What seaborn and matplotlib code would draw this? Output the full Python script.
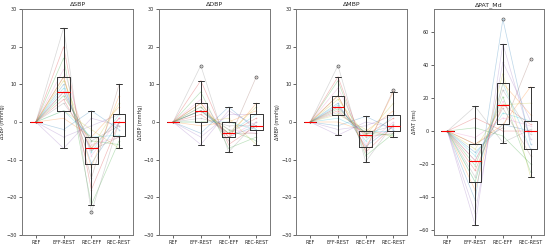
import pandas as pd
import matplotlib
matplotlib.use("Agg")
import matplotlib.pyplot as plt
import seaborn as sns

sns.set_style("ticks")
plt.rcParams["font.family"] = ["DejaVu Sans"]

# -----------------------------
# Data (per-subject changes, REF is always 0)
# -----------------------------
conditions = ["REF", "EFF-REST", "REC-EFF", "REC-REST"]
n_subjects = 20

sbp_eff_rest = [10, 1, 17, 6, -7, 12, 8, 25, 3, 9, -2, 12, 7, 20, -4, 8, 14, 5, 11, 3]
sbp_rec_eff = [-11, -4, -22, -7, 1, -15, -6, -24, -2, -8, 3, -12, -5, -18, -1, -7.5, -9, -5, -7, -4]
sbp_rec_rest = [0, 4, -5, 1, -1, 10, -4, 0, -7, 2, -2, 7, -6, 0, 2, -4, 1, -1, 5, -3.5]

dbp_eff_rest = [4, -1, 8, 2, -6, 5, 3, 15, 0, 3, -3, 5, 3, 11, -4, 3, 6, 1, 4, 0]
dbp_rec_eff = [-4, 0, -7, -3, 3, -5, -2, -8, 1, -3, 4, -4, -2, -6, 2, -3, -4, -1, -3, 0]
dbp_rec_rest = [-1, 3, -4, 1, -1, 12, -3, 0, -6, 2, -2, 5, -5, -1, 2, -3, 0, -1, 4, -2]

mbp_eff_rest = [5, 0, 11, 3, -3.5, 7, 4, 15, 2, 4.5, -1, 7, 3.5, 12, -2, 4, 9, 2.5, 6, 1]
mbp_rec_eff = [-6.5, -2.5, -9, -3.5, 0, -7.5, -3, -10.5, -2, -5, 1.5, -7, -3, -8, -1, -4, -6, -3, -3.5, -2.5]
mbp_rec_rest = [-1, 3, -3, 1, -1.5, 8.6, -2.5, -0.5, -4, 1.8, -2, 8, -3.5, -1, 1.8, -3, 0, -1, 5, -2.5]

pat_eff_rest = [-13, -36, 2, -24, -57, -8, -18, 15, -31, -15, -42, -8, -21, 8, -50, -18, -4, -28, -11, -31]
pat_rec_eff = [4, 29, -3, 16, 53, 2, 18, -7, 35, 11, 68, 4, 21, 0, 42, 14, 8, 25, 16, 29]
pat_rec_rest = [0, 10, -20, 4, -5, 44, -11, 1, -28, 6, -8, 27, -25, 0, 6, -15, 3, -2, 17, -11]

panels = [
    ("ΔSBP", "ΔSBP (mmHg)", [sbp_eff_rest, sbp_rec_eff, sbp_rec_rest], (-30, 30)),
    ("ΔDBP", "ΔDBP (mmHg)", [dbp_eff_rest, dbp_rec_eff, dbp_rec_rest], (-30, 30)),
    ("ΔMBP", "ΔMBP (mmHg)", [mbp_eff_rest, mbp_rec_eff, mbp_rec_rest], (-30, 30)),
    ("ΔPAT_Md", "ΔPAT (ms)", [pat_eff_rest, pat_rec_eff, pat_rec_rest], None),
]


def to_long(series):
    rows = []
    for s in range(n_subjects):
        rows.append({"subject": s, "cond": "REF", "val": 0.0})
        for cond, vals in zip(conditions[1:], series):
            rows.append({"subject": s, "cond": cond, "val": vals[s]})
    return pd.DataFrame(rows)


fig, axes = plt.subplots(1, 4, figsize=(5.5, 2.44), dpi=100)
fig.subplots_adjust(left=0.04, right=0.99, bottom=0.037, top=0.963, wspace=0.236)

palette = sns.color_palette("tab10", n_subjects)

for ax, (title, ylabel, series, ylim) in zip(axes, panels):
    df = to_long(series)
    sns.lineplot(data=df, x="cond", y="val", hue="subject", units="subject",
                 estimator=None, palette=palette, alpha=0.3, linewidth=0.5,
                 marker="o", markersize=1.2, markeredgewidth=0,
                 legend=False, ax=ax)
    sns.boxplot(data=df, x="cond", y="val", order=conditions, fill=False,
                color="#333333", width=0.45, linewidth=0.7,
                medianprops=dict(color="red", linewidth=0.8),
                flierprops=dict(marker="o", markersize=2.2, markerfacecolor="none",
                                markeredgecolor="#555555", markeredgewidth=0.5),
                ax=ax)
    if ylim is not None:
        ax.set_ylim(*ylim)
    ax.set_title(title, fontsize=4.5, pad=2)
    ax.set_xlabel("")
    ax.set_ylabel(ylabel, fontsize=3.5, labelpad=1)
    ax.tick_params(labelsize=3.5, length=2, width=0.5, pad=1.5)
    for sp in ax.spines.values():
        sp.set_linewidth(0.7)
        sp.set_color("#777777")

plt.savefig("out.png", dpi=100)
plt.close()
